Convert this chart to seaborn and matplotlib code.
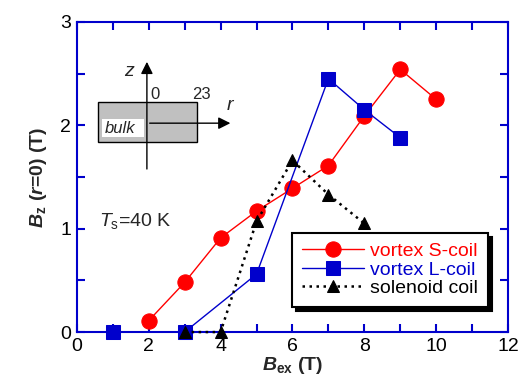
import matplotlib
matplotlib.use("Agg")
import matplotlib.pyplot as plt
import seaborn as sns
import pandas as pd
from matplotlib.patches import Rectangle
from matplotlib.ticker import MultipleLocator

s_x = [2, 3, 4, 5, 6, 7, 8, 9, 10]
s_y = [0.11, 0.48, 0.91, 1.17, 1.39, 1.61, 2.09, 2.54, 2.25]
l_x = [1, 3, 5, 7, 8, 9]
l_y = [0.0, 0.0, 0.56, 2.45, 2.15, 1.88]
sol_x = [3, 4, 5, 6, 7, 8]
sol_y = [0.0, 0.0, 1.07, 1.66, 1.33, 1.05]
labels = ["vortex S-coil", "vortex L-coil", "solenoid coil"]

sns.set_theme(style="ticks")
plt.rcParams['font.family'] = ['Liberation Sans', 'DejaVu Sans']
plt.rcParams['mathtext.fontset'] = 'custom'
plt.rcParams['mathtext.rm'] = 'Liberation Sans'
plt.rcParams['mathtext.it'] = 'Liberation Sans:italic'
plt.rcParams['mathtext.bf'] = 'Liberation Sans:style=italic:weight=bold'
plt.rcParams['mathtext.sf'] = 'Liberation Sans:weight=bold'

fig = plt.figure(figsize=(5.19, 3.83), dpi=100)
ax = fig.add_axes([0.148, 0.133, 0.831, 0.810])

red, blue = "#ff0000", "#0000cc"
sns.lineplot(x=s_x, y=s_y, ax=ax, color=red, lw=1, marker='o', ms=11,
             mec=red, label=labels[0], clip_on=False, zorder=4)
sns.lineplot(x=l_x, y=l_y, ax=ax, color=blue, lw=1, marker='s', ms=10.5,
             mec=blue, label=labels[1], clip_on=False, zorder=5)
sns.lineplot(x=sol_x, y=sol_y, ax=ax, color='black', lw=1.8, ls=(0, (1, 1.8)),
             marker='^', ms=9, mec='black', label=labels[2], clip_on=False, zorder=6)

ax.set_xlim(0, 12)
ax.set_ylim(0, 3)
ax.xaxis.set_major_locator(MultipleLocator(2))
ax.xaxis.set_minor_locator(MultipleLocator(1))
ax.yaxis.set_major_locator(MultipleLocator(1))
ax.yaxis.set_minor_locator(MultipleLocator(0.5))
for sp in ax.spines.values():
    sp.set_color(blue)
    sp.set_linewidth(1.5)
    sp.set_visible(True)
ax.tick_params(which='both', direction='in', top=True, right=True,
               color=blue, width=1.5, labelsize=14, labelcolor='black', pad=4)
ax.tick_params(which='major', length=6)
ax.tick_params(which='minor', length=6)

ax.set_xlabel(r"$\mathbf{B}_{\mathsf{ex}}$ (T)", fontsize=14, fontweight='bold', labelpad=0)
ax.set_ylabel(r"$\mathbf{B}_{\mathsf{z}}$ ($\mathbf{r}$=0) (T)", fontsize=14,
              fontweight='bold', labelpad=8)

leg = ax.legend(loc='lower right', bbox_to_anchor=(0.975, 0.05), frameon=True,
                fancybox=False, shadow={'color': 'black', 'alpha': 1, 'ox': 3, 'oy': -3},
                edgecolor='black', framealpha=1, fontsize=14, handlelength=3.2,
                handletextpad=0.3, labelspacing=0.05, borderpad=0.5)
leg.get_frame().set_linewidth(1.5)
for t, c in zip(leg.get_texts(), [red, blue, 'black']):
    t.set_color(c)

# inset schematic
ax.add_patch(Rectangle((0.58, 1.84), 2.76, 0.38, facecolor='#c0c0c0',
                       edgecolor='black', lw=1, zorder=1))
ax.add_patch(Rectangle((0.70, 1.89), 1.17, 0.17, facecolor='white',
                       edgecolor='none', zorder=2))
ax.text(0.78, 1.97, "bulk", fontsize=12, style='italic', va='center', zorder=3)
ax.annotate("", xy=(1.95, 2.64), xytext=(1.95, 1.55),
            arrowprops=dict(arrowstyle='-|>', color='black', lw=1, mutation_scale=18),
            zorder=3)
ax.annotate("", xy=(4.35, 2.02), xytext=(1.95, 2.02),
            arrowprops=dict(arrowstyle='-|>', color='black', lw=1, mutation_scale=18),
            zorder=3)
ax.text(1.45, 2.52, "z", fontsize=14, style='italic', ha='center', va='center')
ax.text(2.05, 2.3, "0", fontsize=12, ha='left', va='center')
ax.text(3.48, 2.3, "23", fontsize=12, ha='center', va='center')
ax.text(4.25, 2.19, "r", fontsize=14, style='italic', ha='center', va='center')
ax.text(0.62, 1.07, r"$\mathit{T}_{\mathrm{s}}$=40 K", fontsize=14, va='center')

fig.savefig("out.png", dpi=100)
